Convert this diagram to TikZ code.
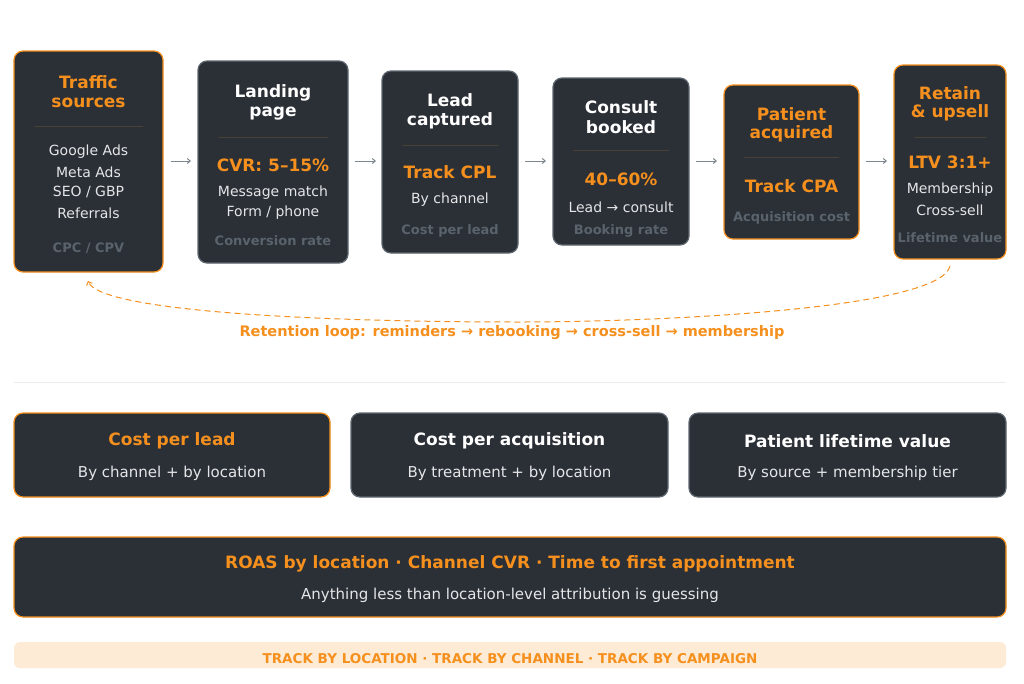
\documentclass[tikz,border=0pt]{standalone}
\usepackage{fontspec}
\setmainfont{DejaVu Sans}
\usetikzlibrary{arrows.meta}
\definecolor{dk}{HTML}{2B2F36}
\definecolor{org}{HTML}{F5901E}
\definecolor{gb}{HTML}{5E6770}
\definecolor{ar}{HTML}{7D8790}
\definecolor{ft}{HTML}{5A636C}
\definecolor{lt}{HTML}{E4E6E8}
\definecolor{dv}{HTML}{4A4036}
\definecolor{peach}{HTML}{FDEBD5}
\begin{document}
\begin{tikzpicture}[x=1pt,y=-1pt,
  box/.style={draw=gb,line width=1.2pt,fill=dk,rounded corners=9pt},
  obox/.style={box,draw=org},
  ttl/.style={font=\fontsize{17}{20}\selectfont\bfseries,text=white},
  ottl/.style={ttl,text=org},
  txt/.style={font=\fontsize{15}{18}\selectfont,text=lt},
  btxt/.style={font=\fontsize{14}{17}\selectfont,text=lt},
  ftr/.style={font=\fontsize{13}{15}\selectfont\bfseries,text=ft},
  dvl/.style={draw=dv,line width=0.6pt},
  arr/.style={draw=ar,line width=1pt,-{Straight Barb[length=3pt,width=5pt]}}]
\useasboundingbox (0,0) rectangle (1024,683);
\fill[white] (0,0) rectangle (1024,683);
% boxes
\draw[obox] (14,51) rectangle (163,272); \node (b1) at (88.5,161) {};
\draw[box] (198,61) rectangle (348,263); \node (b2) at (273,161) {};
\draw[box] (382,71) rectangle (518,253); \node (b3) at (450,161) {};
\draw[box] (553,78) rectangle (689,245); \node (b4) at (621,161) {};
\draw[obox] (724,85) rectangle (859,239); \node (b5) at (791.5,161) {};
\draw[obox] (894,65) rectangle (1006,259); \node (b6) at (950,161) {};
% arrows
\coordinate (a1s) at (171,161); \coordinate (a1e) at (191,161);
\coordinate (a2s) at (355,161); \coordinate (a2e) at (376,161);
\coordinate (a3s) at (525,161); \coordinate (a3e) at (546,161);
\coordinate (a4s) at (696,161); \coordinate (a4e) at (717,161);
\coordinate (a5s) at (866,161); \coordinate (a5e) at (887,161);
\foreach \i in {1,...,5} \draw[arr] (a\i s) -- (a\i e);
% box 1
\node[ottl] (t1a) at (88.5,82) {Traffic};
\node[ottl] (t1b) at (88.5,103) {sources};
\draw[dvl] (34,126) -- (143,126);
\node[btxt] (l1a) at (88.5,152) {Google Ads};
\node[btxt] (l1b) at (88.5,172) {Meta Ads};
\node[btxt] (l1c) at (88.5,192) {SEO / GBP};
\node[btxt] (l1d) at (88.5,213) {Referrals};
\node[ftr] (f1) at (88.5,248) {CPC / CPV};
% box 2
\node[ttl] (t2a) at (273,93) {Landing};
\node[ttl] (t2b) at (273,114) {page};
\draw[dvl] (218,137) -- (328,137);
\node[ottl] (k2) at (273,165) {CVR: 5–15\%};
\node[btxt] (l2a) at (273,193) {Message match};
\node[btxt] (l2b) at (273,213) {Form / phone};
\node[ftr] (f2) at (273,241) {Conversion rate};
% box 3
\node[ttl] (t3a) at (450,100) {Lead};
\node[ttl] (t3b) at (450,121) {captured};
\draw[dvl] (402,145) -- (498,145);
\node[ottl] (k3) at (450,172) {Track CPL};
\node[btxt] (l3a) at (450,200) {By channel};
\node[ftr] (f3) at (450,231) {Cost per lead};
% box 4
\node[ttl] (t4a) at (621,107) {Consult};
\node[ttl] (t4b) at (621,127) {booked};
\draw[dvl] (573,150) -- (669,150);
\node[ottl] (k4) at (621,179) {40–60\%};
\node[btxt] (l4a) at (621,207) {Lead → consult};
\node[ftr] (f4) at (621,231) {Booking rate};
% box 5
\node[ottl] (t5a) at (791.5,114) {Patient};
\node[ottl] (t5b) at (791.5,134) {acquired};
\draw[dvl] (744,157) -- (839,157);
\node[ottl] (k5) at (791.5,186) {Track CPA};
\node[ftr] (f5) at (791.5,218) {Acquisition cost};
% box 6
\node[ottl] (t6a) at (950,93) {Retain};
\node[ottl] (t6b) at (950,113) {\& upsell};
\draw[dvl] (914,137) -- (986,137);
\node[ottl] (k6) at (950,162) {LTV 3:1+};
\node[btxt] (l6a) at (950,190) {Membership};
\node[btxt] (l6b) at (950,210) {Cross-sell};
\node[ftr] (f6) at (950,238) {Lifetime value};
% loop
\coordinate (ls) at (950,266);
\coordinate (le) at (88,281);
\draw[org,line width=1pt,dash pattern=on 6pt off 4pt,-{Straight Barb[length=3pt,width=6pt]}]
  (ls) .. controls (940,310) and (650,322) .. (520,322)
  .. controls (300,322) and (100,310) .. (le);
\node[font=\fontsize{14.5}{17}\selectfont\bfseries,text=org] (loop) at (512,333)
  {Retention loop: reminders → rebooking → cross-sell → membership};
\draw[draw=black!8,line width=0.8pt] (14,382) -- (1006,382);
% metric boxes
\draw[obox] (14,413) rectangle (330,497);
\draw[box] (351,413) rectangle (668,497);
\draw[box] (689,413) rectangle (1006,497);
\node[ottl] (m1) at (172,441) {Cost per lead};
\node[txt] (m1s) at (172,473) {By channel + by location};
\node[ttl] (m2) at (509.5,441) {Cost per acquisition};
\node[txt] (m2s) at (509.5,473) {By treatment + by location};
\node[ttl] (m3) at (847.5,441) {Patient lifetime value};
\node[txt] (m3s) at (847.5,473) {By source + membership tier};
% big box
\draw[obox] (14,537) rectangle (1006,617);
\node[ottl] (r1) at (510,564) {ROAS by location · Channel CVR · Time to first appointment};
\node[txt] (r2) at (510,595) {Anything less than location-level attribution is guessing};
% banner
\fill[peach,rounded corners=6pt] (14,642) rectangle (1006,668);
\node[font=\fontsize{13.5}{16}\selectfont\bfseries,text=org] (bn) at (510,659)
  {TRACK BY LOCATION · TRACK BY CHANNEL · TRACK BY CAMPAIGN};
\end{tikzpicture}
\end{document}
